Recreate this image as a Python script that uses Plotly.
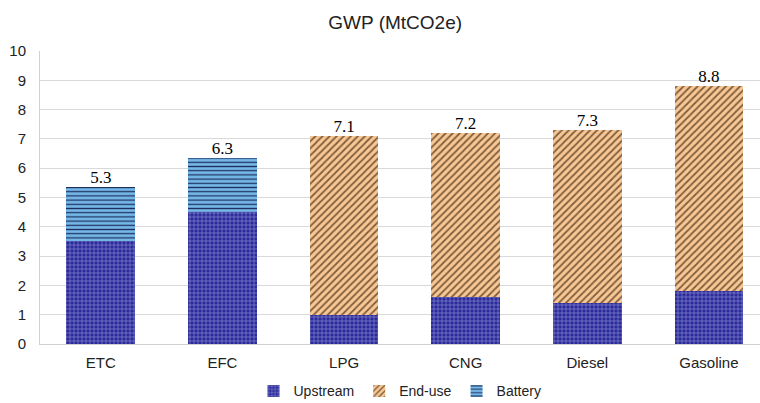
import plotly.graph_objects as go

categories = ["ETC", "EFC", "LPG", "CNG", "Diesel", "Gasoline"]
upstream = [3.5, 4.5, 1.0, 1.6, 1.4, 1.8]
end_use = [0, 0, 6.1, 5.6, 5.9, 7.0]
battery = [1.85, 1.85, 0, 0, 0, 0]
total_labels = [5.3, 6.3, 7.1, 7.2, 7.3, 8.8]
y_ticks = list(range(0, 11))

totals = [u + e + b for u, e, b in zip(upstream, end_use, battery)]

fig = go.Figure()
fig.add_trace(go.Bar(
    x=categories, y=upstream, name="Upstream", width=0.565,
    marker=dict(color="#2B2B9C", line=dict(width=0),
                pattern=dict(shape="+", bgcolor="#2B2B9C", fgcolor="#9A9AD8",
                             size=4, solidity=0.25, fillmode="replace")),
))
fig.add_trace(go.Bar(
    x=categories, y=end_use, name="End-use", width=0.565,
    marker=dict(color="#F8C794", line=dict(width=0),
                pattern=dict(shape="/", bgcolor="#F8C794", fgcolor="#80603F",
                             size=5, solidity=0.35, fillmode="replace")),
))
fig.add_trace(go.Bar(
    x=categories, y=battery, name="Battery", width=0.565,
    marker=dict(color="#74B8E8", line=dict(width=0),
                pattern=dict(shape="-", bgcolor="#74B8E8", fgcolor="#1F2F60",
                             size=4.2, solidity=0.3, fillmode="replace")),
))
fig.add_trace(go.Scatter(
    x=categories, y=totals, mode="text",
    text=[f"{v:.1f}" for v in total_labels],
    textposition="top center",
    textfont=dict(family="Liberation Serif", size=17, color="#000000"),
    showlegend=False, hoverinfo="skip", cliponaxis=False,
))

fig.update_layout(
    width=760, height=403,
    barmode="stack",
    paper_bgcolor="white", plot_bgcolor="white",
    margin=dict(l=40, r=0, t=51, b=59, autoexpand=False),
    font=dict(family="Liberation Sans, Arial", color="#222222"),
    title=dict(text="GWP (MtCO2e)", x=0.52, xref="container", xanchor="center",
               y=1 - 22 / 403, yref="container", yanchor="middle",
               font=dict(size=19, color="#222222")),
    legend=dict(orientation="h", x=0.5, xanchor="center", y=-0.107, yanchor="top",
                font=dict(size=14, color="#222222"), traceorder="normal",
                itemwidth=30),
    showlegend=True,
)
fig.update_xaxes(range=[-0.5, 5.42], showgrid=False, showline=True,
                 linecolor="#d0d0d0", linewidth=1, ticks="", automargin=False,
                 ticklabelstandoff=5,
                 tickfont=dict(size=15, color="#222222"))
fig.update_yaxes(range=[0, 10], tickvals=y_ticks, showgrid=True,
                 gridcolor="#d9d9d9", gridwidth=1, showline=True,
                 linecolor="#d0d0d0", linewidth=1, zeroline=False,
                 ticks="", ticklen=0, automargin=False, ticklabelstandoff=10,
                 tickfont=dict(size=15, color="#222222"))

fig.write_html("out.html", config={"displayModeBar": False},
               post_script="document.body.style.margin='0';document.body.style.overflow='hidden';")
